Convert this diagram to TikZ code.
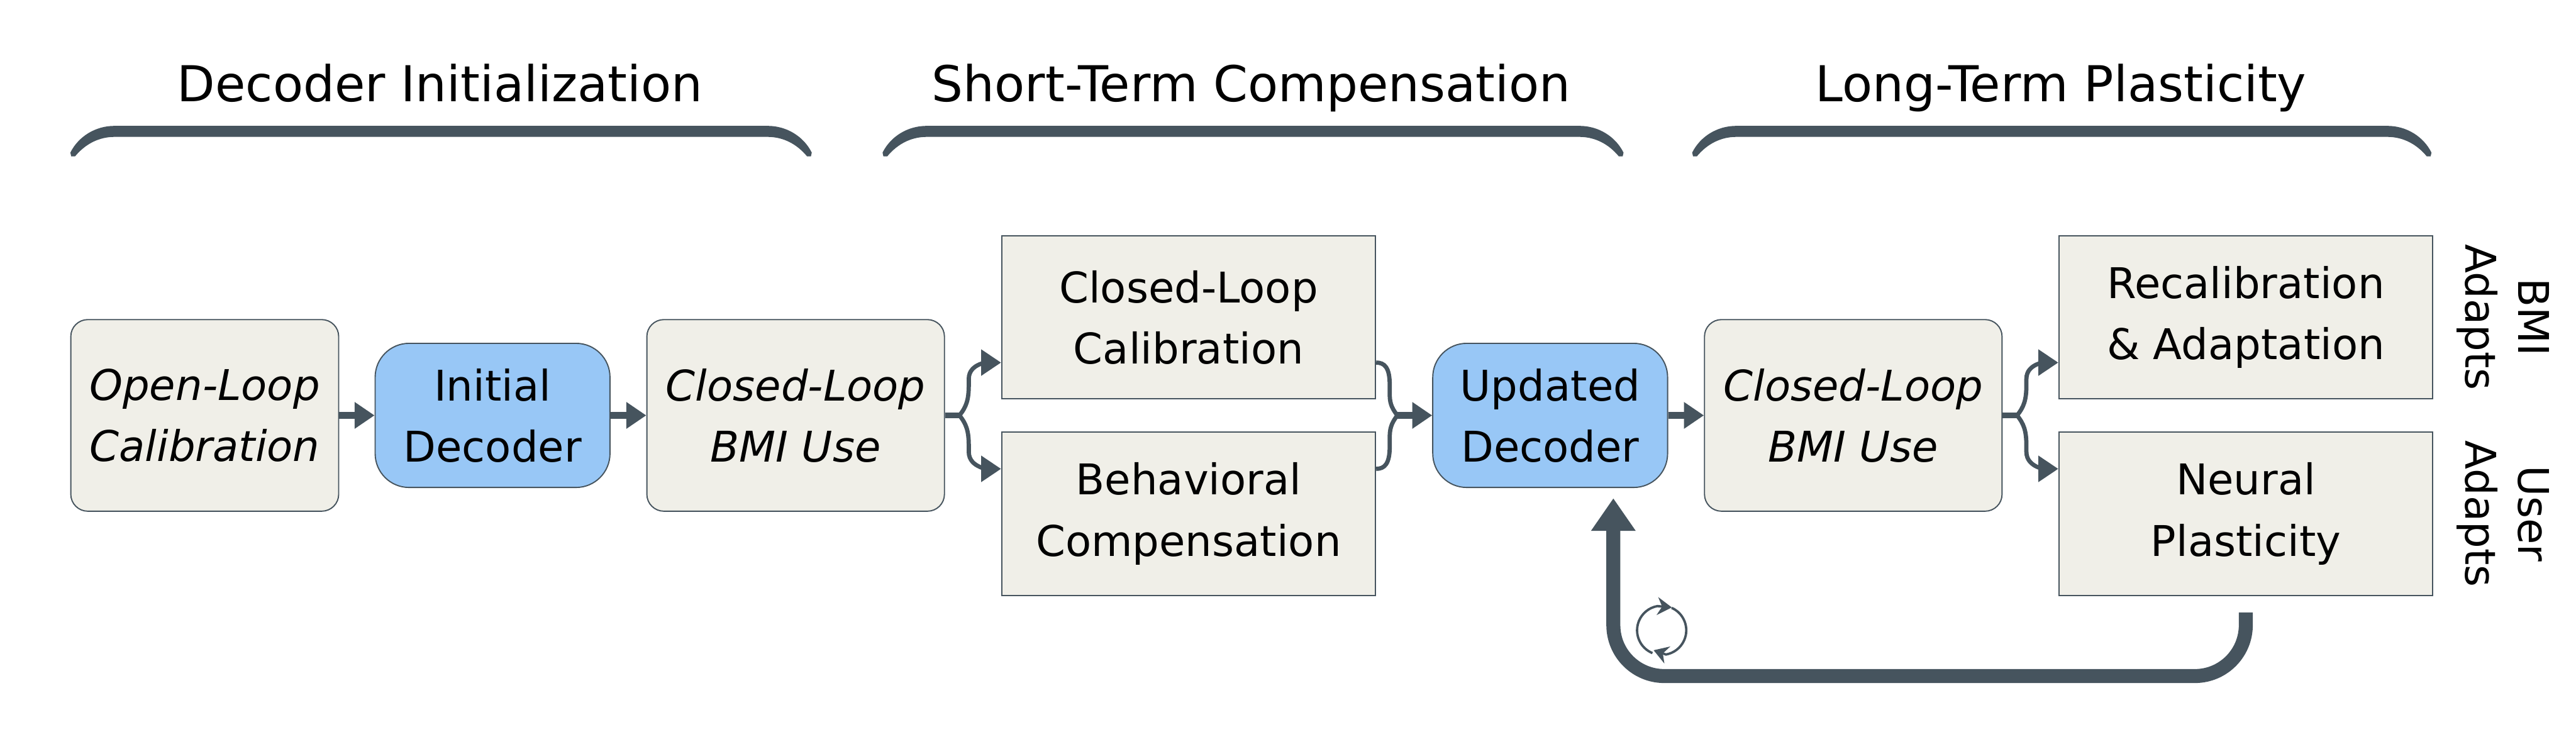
\documentclass[tikz,border=0pt]{standalone}
\usepackage{fontspec}
\setmainfont{DejaVu Sans}
\usepackage{xcolor}
\usetikzlibrary{arrows.meta,calc}
\definecolor{ink}{HTML}{46545E}
\definecolor{paper}{HTML}{F0EFE8}
\definecolor{sky}{HTML}{98C7F6}

\begin{document}
\begin{tikzpicture}[
  usebox/.style={draw=ink, line width=0.4pt, rounded corners=0.2cm, fill=paper,
                 minimum width=3.16cm, minimum height=2.26cm, align=center,
                 font=\fontsize{14.2}{20.5}\selectfont\itshape},
  decoder/.style={draw=ink, line width=0.4pt, rounded corners=0.4cm, fill=sky,
                  minimum width=2.77cm, minimum height=1.7cm, align=center,
                  font=\fontsize{14.2}{20.5}\selectfont},
  adapt/.style={draw=ink, line width=0.4pt, fill=paper,
                minimum width=4.41cm, minimum height=1.925cm, align=center,
                font=\fontsize{14.2}{20.5}\selectfont},
  phase/.style={anchor=base, font=\fontsize{16.6}{20}\selectfont},
  side/.style={rotate=-90, align=center, font=\fontsize{14.2}{17.6}\selectfont},
  bracket/.style={fill=ink},
  flow/.style={draw=ink, line width=0.075cm, -{Triangle[length=0.235cm, width=0.3cm]}},
  stub/.style={draw=ink, line width=0.07cm},
  curved/.style={draw=ink, line width=0.05cm},
  branch/.style={curved, -{Triangle[length=0.235cm, width=0.3cm]}},
  feedback/.style={draw=ink, line width=0.165cm, rounded corners=0.6cm,
                   -{Triangle[length=0.385cm, width=0.5cm]}},
  loopicon/.style={draw=ink, line width=0.028cm, -{Stealth[length=0.17cm, width=0.21cm]}}
]
  \useasboundingbox (0,0) rectangle (30.385,8.83);

  \node[phase] (t1) at (5.19,  7.63) {Decoder Initialization};
  \node[phase] (t2) at (14.76, 7.63) {Short-Term Compensation};
  \node[phase] (t3) at (24.31, 7.63) {Long-Term Plasticity};

  \fill[bracket] (0.83,7.03) .. controls (0.925,7.22) and (1.125,7.345) .. (1.35,7.345) -- (9.055,7.345)
    .. controls (9.28,7.345) and (9.48,7.22) .. (9.575,7.03) -- (9.565,6.985) -- (9.52,6.985)
    .. controls (9.40,7.13) and (9.24,7.215) .. (9.055,7.215) -- (1.35,7.215)
    .. controls (1.165,7.215) and (1.005,7.13) .. (0.885,6.985) -- (0.84,6.985) -- cycle;
  \fill[bracket] (10.41,7.03) .. controls (10.505,7.22) and (10.705,7.345) .. (10.93,7.345) -- (18.63,7.345)
    .. controls (18.855,7.345) and (19.055,7.22) .. (19.15,7.03) -- (19.14,6.985) -- (19.095,6.985)
    .. controls (18.975,7.13) and (18.815,7.215) .. (18.63,7.215) -- (10.93,7.215)
    .. controls (10.745,7.215) and (10.585,7.13) .. (10.465,6.985) -- (10.42,6.985) -- cycle;
  \fill[bracket] (19.96,7.03) .. controls (20.055,7.22) and (20.255,7.345) .. (20.48,7.345) -- (28.16,7.345)
    .. controls (28.385,7.345) and (28.585,7.22) .. (28.68,7.03) -- (28.67,6.985) -- (28.625,6.985)
    .. controls (28.505,7.13) and (28.345,7.215) .. (28.16,7.215) -- (20.48,7.215)
    .. controls (20.295,7.215) and (20.135,7.13) .. (20.015,6.985) -- (19.97,6.985) -- cycle;

  \node[usebox]  (ol)     at (2.415,  3.93)   {Open-Loop\\Calibration};
  \node[decoder] (init)   at (5.81,   3.93)   {Initial\\Decoder};
  \node[usebox, minimum width=3.51cm] (use1) at (9.385, 3.93) {Closed-Loop\\BMI Use};
  \node[adapt]   (cal)    at (14.02,  5.0875) {Closed-Loop\\Calibration};
  \node[adapt]   (comp)   at (14.02,  2.77)   {Behavioral\\Compensation};
  \node[decoder] (upd)    at (18.285, 3.93)   {Updated\\Decoder};
  \node[usebox, minimum width=3.51cm] (use2) at (21.86, 3.93) {Closed-Loop\\BMI Use};
  \node[adapt]   (recal)  at (26.49,  5.0875) {Recalibration\\\& Adaptation};
  \node[adapt]   (neural) at (26.49,  2.77)   {Neural\\Plasticity};
  \node[side]    (bmi)    at (29.525, 5.0875) {BMI\\Adapts};
  \node[side]    (user)   at (29.525, 2.77)   {User\\Adapts};

  \draw[flow] (ol) -- (init);
  \draw[flow] (init) -- (use1);

  % forks out of the closed-loop boxes
  \coordinate (calin)   at ($(cal.south west)+(0,0.435)$);
  \coordinate (compin)  at ($(comp.north west)+(0,-0.44)$);
  \coordinate (recalin) at ($(recal.south west)+(0,0.435)$);
  \coordinate (neurin)  at ($(neural.north west)+(0,-0.44)$);
  \draw[stub] (use1.east) -- ++(0.17,0) coordinate (fork1);
  \draw[branch] (fork1) .. controls +(0.08,0.1) and +(0,-0.18) .. ++(0.11,0.36) -- ++(0,0.07)
    .. controls +(0,0.2) and +(-0.1,0) .. (calin);
  \draw[branch] (fork1) .. controls +(0.08,-0.1) and +(0,0.18) .. ++(0.11,-0.36) -- ++(0,-0.07)
    .. controls +(0,-0.2) and +(-0.1,0) .. (compin);
  \draw[stub] (use2.east) -- ++(0.17,0) coordinate (fork2);
  \draw[branch] (fork2) .. controls +(0.08,0.1) and +(0,-0.18) .. ++(0.11,0.36) -- ++(0,0.07)
    .. controls +(0,0.2) and +(-0.1,0) .. (recalin);
  \draw[branch] (fork2) .. controls +(0.08,-0.1) and +(0,0.18) .. ++(0.11,-0.36) -- ++(0,-0.07)
    .. controls +(0,-0.2) and +(-0.1,0) .. (neurin);

  % merge into the updated decoder
  \coordinate (calout)  at ($(cal.south east)+(0,0.435)$);
  \coordinate (compout) at ($(comp.north east)+(0,-0.44)$);
  \coordinate (merge)   at ($(upd.west)+(-0.41,0)$);
  \draw[curved] (calout) .. controls +(0.1,0) and +(0,0.2) .. ++(0.16,-0.26) -- ++(0,-0.1)
    .. controls +(0,-0.1) and +(-0.08,0.1) .. (merge);
  \draw[curved] (compout) .. controls +(0.1,0) and +(0,-0.2) .. ++(0.16,0.26) -- ++(0,0.1)
    .. controls +(0,0.1) and +(-0.08,-0.1) .. (merge);
  \draw[flow] (merge) -- (upd.west);
  \draw[flow] (upd) -- (use2);

  % big return path and its icon
  \draw[feedback] ([yshift=-0.195cm]neural.south) -- ++(0,-0.75) -| ([xshift=0.745cm,yshift=-0.12cm]upd.south);
  \coordinate (icon) at (19.6,1.395);
  \draw[loopicon] ($(icon)+(248:0.29)$) arc[start angle=248, end angle=100, radius=0.29] -- ($(icon)+(0.12,0.27)$);
  \draw[loopicon] ($(icon)+(66:0.29)$) arc[start angle=66, end angle=-80, radius=0.29] -- ($(icon)+(-0.095,-0.235)$);
\end{tikzpicture}
\end{document}
